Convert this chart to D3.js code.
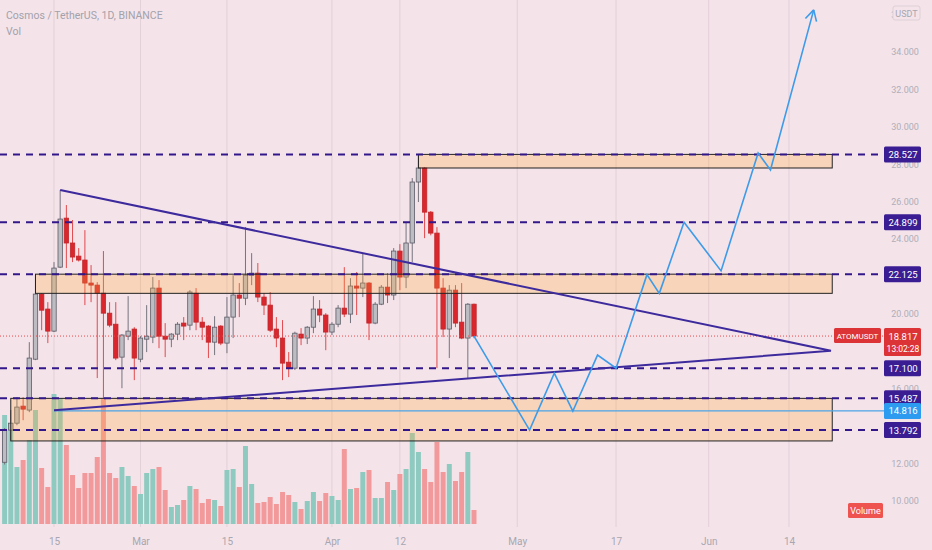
<!DOCTYPE html>
<html>
<head>
<meta charset="utf-8">
<script src="https://cdn.jsdelivr.net/npm/d3@7"></script>
<style>
  body { margin: 0; background: #f4e4ea; }
  svg { display: block; }
  text { font-family: Roboto, 'Liberation Sans', sans-serif; }
</style>
</head>
<body>
<div id="chart-area"></div>
<script>
// ATOMUSDT daily candles, 2021-02-07 .. 2021-04-24
var startDay = '2021-02-07';
var opens = [12.07, 13.79, 14.16, 15.07, 14.86, 17.58, 21.06, 20.26, 19.08, 22.50,
    25.12, 23.79, 23.09, 22.88, 21.65, 21.54, 21.11, 20.04, 19.45, 17.69,
    18.81, 19.19, 17.58, 18.65, 18.76, 21.38, 18.81, 18.65, 18.92, 19.51,
    19.40, 21.11, 19.56, 19.35, 18.49, 19.35, 18.44, 19.83, 21.01, 20.84,
    22.07, 22.18, 20.90, 20.47, 19.19, 18.71, 17.42, 17.10, 18.92, 18.71,
    19.29, 20.26, 19.94, 19.03, 19.45, 20.31, 19.99, 21.49, 21.38, 21.65,
    19.51, 20.52, 21.43, 21.01, 23.36, 21.97, 23.79, 27.05, 27.80, 25.44,
    24.32, 21.38, 19.19, 21.27, 19.56, 18.71, 20.52];
var closes = [13.79, 14.16, 15.02, 14.91, 17.64, 21.06, 20.20, 19.08, 22.45, 25.07,
    23.79, 23.04, 22.88, 21.65, 21.54, 21.11, 20.04, 19.40, 17.64, 18.87,
    19.08, 17.64, 18.71, 18.81, 21.38, 18.81, 18.65, 18.92, 19.45, 19.35,
    21.17, 19.56, 19.29, 18.49, 19.29, 18.44, 19.83, 21.01, 20.84, 22.07,
    22.18, 20.90, 20.47, 19.13, 18.71, 17.37, 17.10, 18.97, 18.71, 19.29,
    20.26, 19.94, 19.03, 19.45, 20.31, 19.99, 21.49, 21.38, 21.65, 19.51,
    20.52, 21.43, 21.01, 23.36, 21.97, 23.79, 27.05, 27.80, 25.44, 24.32,
    21.38, 19.19, 21.27, 19.51, 18.71, 20.52, 18.817];
var highs = [13.90, 14.86, 15.55, 15.55, 18.49, 22.07, 21.11, 20.63, 22.77, 26.62,
    25.82, 25.02, 23.52, 24.48, 22.61, 21.70, 23.36, 20.63, 20.63, 18.92,
    20.95, 19.29, 18.81, 20.47, 21.97, 21.81, 19.51, 18.97, 19.56, 19.83,
    21.27, 21.38, 19.83, 19.40, 19.88, 19.40, 20.90, 22.07, 21.65, 24.64,
    23.25, 22.72, 21.11, 21.17, 19.83, 19.67, 17.96, 19.05, 19.24, 19.35,
    20.95, 20.74, 20.04, 19.56, 20.47, 22.50, 21.91, 22.24, 23.25, 21.70,
    20.63, 21.54, 22.18, 23.52, 23.73, 24.86, 27.26, 28.44, 27.85, 25.50,
    24.64, 21.91, 21.54, 21.54, 21.65, 20.58, 20.55];
var lows = [11.95, 13.25, 14.05, 14.32, 14.75, 17.53, 19.13, 18.44, 19.03, 22.45,
    22.45, 22.77, 22.80, 20.47, 20.63, 16.57, 15.50, 19.29, 17.53, 16.03,
    18.60, 16.46, 17.42, 17.96, 18.44, 18.17, 17.69, 18.22, 18.60, 18.60,
    19.13, 19.13, 18.60, 17.64, 17.80, 18.33, 17.90, 18.71, 19.83, 20.47,
    21.54, 20.63, 19.94, 19.03, 18.22, 16.46, 16.62, 17.00, 18.33, 18.39,
    18.97, 19.56, 18.06, 18.87, 19.29, 19.83, 19.51, 19.94, 20.90, 18.60,
    19.45, 20.47, 20.58, 20.74, 21.27, 21.38, 22.77, 25.98, 24.05, 24.20,
    17.10, 18.76, 17.64, 19.29, 18.65, 16.57, 18.70];
var volumes = [109, 101, 57, 64, 84, 114, 56, 37, 130, 126,
    79, 49, 36, 51, 51, 67, 126, 51, 46, 57,
    48, 38, 30, 51, 55, 57, 34, 17, 19, 24,
    38, 35, 21, 25, 24, 18, 54, 55, 37, 78,
    40, 21, 22, 27, 20, 32, 29, 22, 15, 23,
    32, 23, 31, 28, 24, 75, 35, 36, 52, 54,
    26, 26, 42, 34, 50, 55, 91, 72, 55, 42,
    82, 52, 60, 43, 52, 72, 14];

// horizontal levels + zones
var levels = [28.527, 24.899, 22.125, 17.100, 15.487, 13.792];
var zoneStarts = ['2021-04-15', '2021-02-12', '2021-02-08'];
var zoneEnd = '2021-06-21';
var zoneTops = [28.527, 22.125, 15.487];
var zoneBottoms = [27.80, 21.10, 13.21];
var blueLevel = 14.816;
var blueStart = '2021-02-15';
var lastPrice = 18.817;

// triangle (upper + lower trendline meeting at apex)
var triDates = ['2021-02-16', '2021-06-20T19:00', '2021-02-15'];
var triPrices = [26.62, 18.03, 14.85];

// projected path
var fcDates = ['2021-04-24', '2021-05-03', '2021-05-07', '2021-05-10', '2021-05-14', '2021-05-17',
    '2021-05-22', '2021-05-24', '2021-05-28', '2021-06-03', '2021-06-09', '2021-06-11', '2021-06-18'];
var fcPrices = [18.817, 13.79, 16.83, 14.80, 17.80, 17.10, 22.10, 21.10, 24.90, 22.30, 28.60, 27.70, 36.25];

// axis ticks (the ones hidden behind tags are left out)
var priceTicks = [10, 12, 16, 20, 24, 26, 28, 30, 32, 34, 36];
var dateTicks = ['2021-02-15', '2021-03-01', '2021-03-15', '2021-04-01', '2021-04-12', '2021-05-01', '2021-05-17', '2021-06-01', '2021-06-14'];
var dateTickLabels = ['15', 'Mar', '15', 'Apr', '12', 'May', '17', 'Jun', '14'];

var W = 932, H = 550;
var plotRight = 884;
var day = function(s) { return new Date(s.length > 10 ? s + 'Z' : s + 'T00:00Z'); };

var candles = opens.map(function(o, i) {
    return { date: new Date(day(startDay).getTime() + i * 864e5), o: o, c: closes[i], h: highs[i], l: lows[i], v: volumes[i] };
});

var svg = d3.select('#chart-area').append('svg').attr('width', W).attr('height', H);
svg.append('rect').attr('width', W).attr('height', H).attr('fill', '#f4e4ea');

// scales
var x = d3.scaleUtc().domain([day('2021-02-07'), day('2021-06-14')]).range([4.6, 789]);
var y = d3.scaleLinear().domain([10, 34]).range([501, 52]);
var yVol = d3.scaleLinear().domain([0, 130]).range([524, 394]);

// vertical grid
svg.append('g').selectAll('line').data(dateTicks).enter().append('line')
    .attr('x1', function(d) { return x(day(d)); }).attr('x2', function(d) { return x(day(d)); })
    .attr('y1', 0).attr('y2', 527)
    .attr('stroke', '#e3cfd8').attr('stroke-width', 1);

// x axis labels
var xAxis = d3.axisBottom(x).tickValues(dateTicks.map(day)).tickSize(0)
    .tickFormat(function(d, i) { return dateTickLabels[i]; });
var xg = svg.append('g').attr('transform', 'translate(0,534)').call(xAxis);
xg.select('.domain').remove();
xg.selectAll('text').attr('fill', '#a8a6b0').style('font-size', '10px').attr('dy', '0.8em');

// y axis labels
var yAxis = d3.axisRight(y).tickValues(priceTicks).tickSize(0).tickFormat(d3.format('.3f'));
var yg = svg.append('g').attr('transform', 'translate(' + 905 + ',0)').call(yAxis);
yg.select('.domain').remove();
yg.selectAll('text').attr('fill', '#b0adb8').style('font-size', '9px')
    .attr('x', 0).attr('text-anchor', 'middle');

// volume
var bw = 5;
svg.append('g').selectAll('rect').data(candles).enter().append('rect')
    .attr('x', function(d) { return x(d.date) - bw / 2; })
    .attr('width', bw)
    .attr('y', function(d) { return yVol(d.v); })
    .attr('height', function(d) { return yVol(0) - yVol(d.v); })
    .attr('fill', function(d) { return d.c >= d.o ? '#8fcac1' : '#f29a9b'; });

// candles
var cg = svg.append('g');
cg.selectAll('line').data(candles).enter().append('line')
    .attr('x1', function(d) { return x(d.date); }).attr('x2', function(d) { return x(d.date); })
    .attr('y1', function(d) { return y(d.h); }).attr('y2', function(d) { return y(d.l); })
    .attr('stroke', function(d) { return d.c >= d.o ? '#75737e' : '#e2494c'; })
    .attr('stroke-width', 1);
var cw = 4.4;
cg.selectAll('rect').data(candles).enter().append('rect')
    .attr('x', function(d) { return x(d.date) - cw / 2; })
    .attr('width', cw)
    .attr('y', function(d) { return y(Math.max(d.o, d.c)); })
    .attr('height', function(d) { return Math.max(1, Math.abs(y(d.o) - y(d.c))); })
    .attr('fill', function(d) { return d.c >= d.o ? '#bcbcc2' : '#d9272d'; })
    .attr('stroke', function(d) { return d.c >= d.o ? '#5c5b66' : '#c0262b'; })
    .attr('stroke-width', 0.8);

// zones
svg.append('g').selectAll('rect').data(zoneTops).enter().append('rect')
    .attr('x', function(d, i) { return x(day(zoneStarts[i])); })
    .attr('width', function(d, i) { return x(day(zoneEnd)) - x(day(zoneStarts[i])); })
    .attr('y', function(d) { return y(d); })
    .attr('height', function(d, i) { return y(zoneBottoms[i]) - y(d); })
    .attr('fill', 'rgba(255,170,60,0.27)')
    .attr('stroke', '#222').attr('stroke-width', 1);

// current price dotted line
svg.append('line').attr('x1', 0).attr('x2', plotRight)
    .attr('y1', y(lastPrice)).attr('y2', y(lastPrice))
    .attr('stroke', '#e8474a').attr('stroke-width', 1).attr('stroke-dasharray', '1,2');

// level lines
svg.append('g').selectAll('line').data(levels).enter().append('line')
    .attr('x1', 0).attr('x2', plotRight)
    .attr('y1', function(d) { return y(d); }).attr('y2', function(d) { return y(d); })
    .attr('stroke', '#32178a').attr('stroke-width', 2).attr('stroke-dasharray', '7,6');

// blue level
svg.append('line').attr('x1', x(day(blueStart))).attr('x2', plotRight)
    .attr('y1', y(blueLevel)).attr('y2', y(blueLevel))
    .attr('stroke', '#4aa3e6').attr('stroke-width', 1.2);

// triangle
var line = d3.line().x(function(d) { return x(day(d[0])); }).y(function(d) { return y(d[1]); });
svg.append('path')
    .datum(triDates.map(function(d, i) { return [d, triPrices[i]]; }))
    .attr('d', line).attr('fill', 'none')
    .attr('stroke', '#3d2a9c').attr('stroke-width', 2).attr('stroke-linejoin', 'miter');

// projected path + arrow head
var fcPts = fcDates.map(function(d, i) { return [d, fcPrices[i]]; });
svg.append('path').datum(fcPts).attr('d', line).attr('fill', 'none')
    .attr('stroke', '#3d9be9').attr('stroke-width', 1.6);
var p1 = fcPts[fcPts.length - 2], p2 = fcPts[fcPts.length - 1];
var tx = x(day(p2[0])), ty = y(p2[1]);
var ang = Math.atan2(ty - y(p1[1]), tx - x(day(p1[0])));
[-0.5, 0.5].forEach(function(a) {
    svg.append('line').attr('x1', tx).attr('y1', ty)
        .attr('x2', tx - 12 * Math.cos(ang + a)).attr('y2', ty - 12 * Math.sin(ang + a))
        .attr('stroke', '#3d9be9').attr('stroke-width', 1.6);
});

// price labels on the axis
function priceTag(v, fill, extra) {
    var h = extra ? 28 : 16;
    var g = svg.append('g').attr('transform', 'translate(884,' + (y(v) - 8) + ')');
    g.append('rect').attr('width', 37).attr('height', h).attr('rx', 1.5).attr('fill', fill);
    g.append('text').attr('x', 19).attr('y', 11.5).attr('text-anchor', 'middle')
        .attr('fill', '#fff').style('font-size', '9.5px').text(d3.format('.3f')(v));
    if (extra) {
        g.append('text').attr('x', 19).attr('y', 24).attr('text-anchor', 'middle')
            .attr('fill', '#fff').style('font-size', '8.5px').text(extra);
    }
}
levels.forEach(function(v) { priceTag(v, '#3a1d92'); });
priceTag(blueLevel, '#2d9cf0');
priceTag(lastPrice, '#dc3436', '13:02:28');

// ticker tag
var tag = svg.append('g').attr('transform', 'translate(834,' + (y(lastPrice) - 8) + ')');
tag.append('rect').attr('width', 47).attr('height', 15).attr('rx', 1.5).attr('fill', '#dc3436');
tag.append('text').attr('x', 23.5).attr('y', 11).attr('text-anchor', 'middle')
    .attr('fill', '#fff').style('font-size', '8px').text('ATOMUSDT');

// USDT box
var ub = svg.append('g').attr('transform', 'translate(893,6)');
ub.append('rect').attr('width', 27).attr('height', 14).attr('rx', 2)
    .attr('fill', '#f4e4ea').attr('stroke', '#ddd0d6');
ub.append('text').attr('x', 13.5).attr('y', 10.5).attr('text-anchor', 'middle')
    .attr('fill', '#a8a6b0').style('font-size', '9px').text('USDT');

// Volume tag
var vt = svg.append('g').attr('transform', 'translate(848,503)');
vt.append('rect').attr('width', 35).attr('height', 15).attr('rx', 1.5).attr('fill', '#ef5350');
vt.append('text').attr('x', 17.5).attr('y', 11).attr('text-anchor', 'middle')
    .attr('fill', '#fff').style('font-size', '9px').text('Volume');

// header
svg.append('text').attr('x', 6).attr('y', 19).attr('fill', '#a3a1ab')
    .style('font-size', '10.5px').text('Cosmos / TetherUS, 1D, BINANCE');
svg.append('text').attr('x', 6).attr('y', 35).attr('fill', '#a3a1ab')
    .style('font-size', '10.5px').text('Vol');
</script>
</body>
</html>
